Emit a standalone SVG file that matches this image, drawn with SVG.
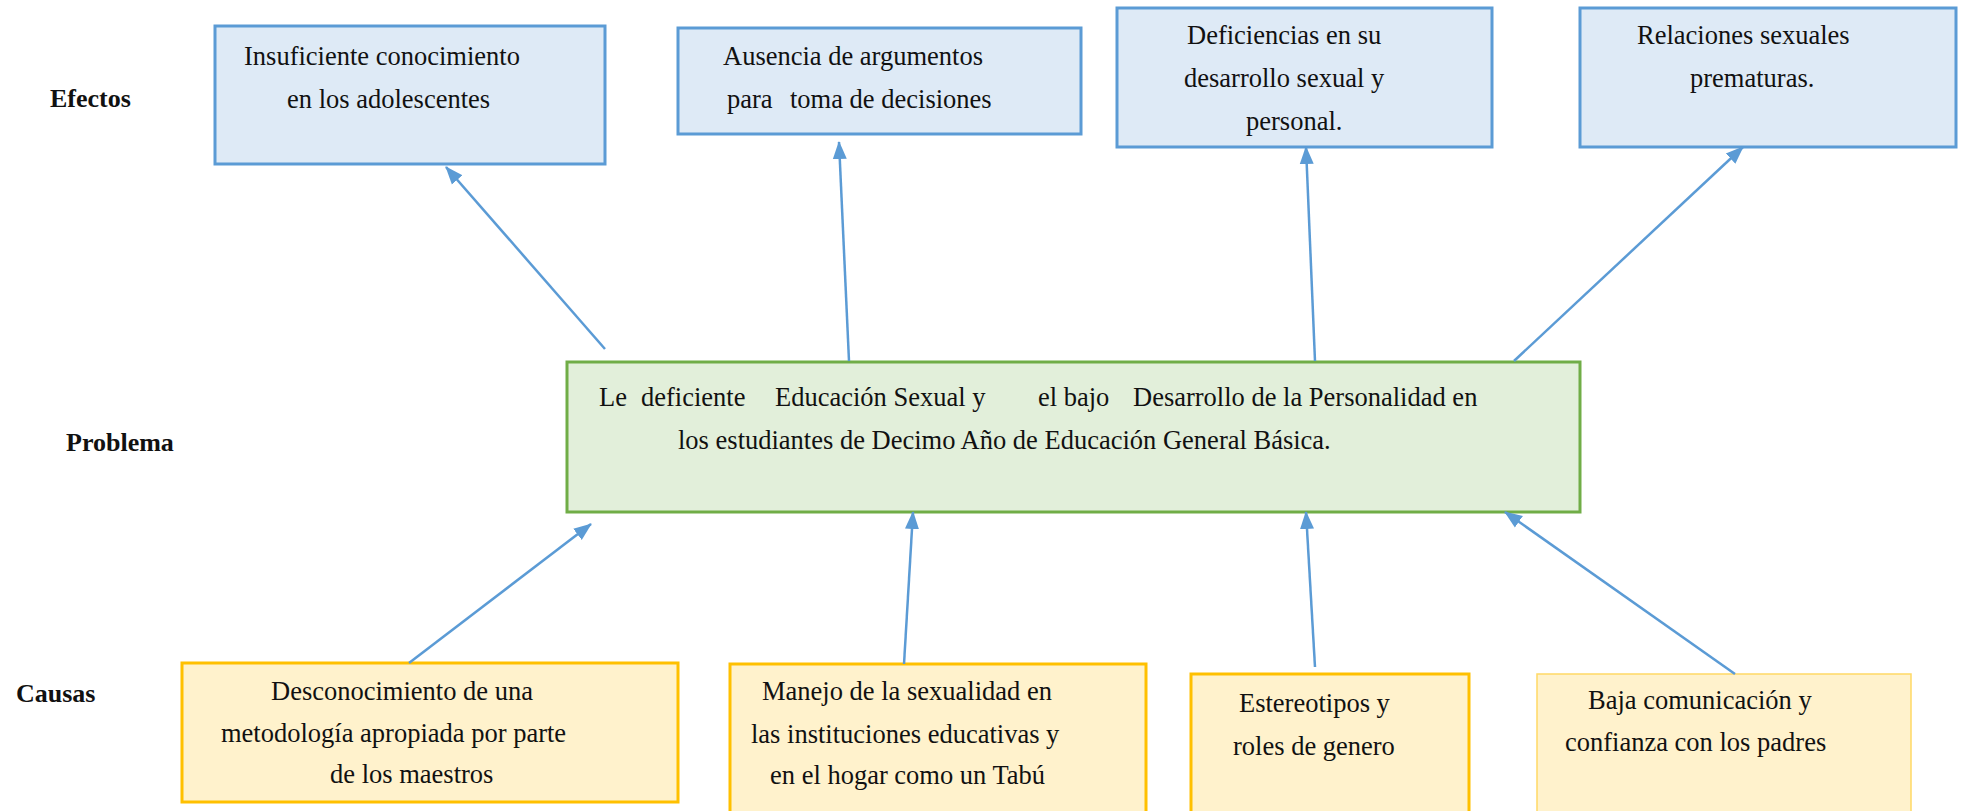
<svg xmlns="http://www.w3.org/2000/svg" width="1964" height="811" viewBox="0 0 1964 811">
<style>
text{font-family:"Liberation Serif","Times New Roman",serif;font-size:26.5px;fill:#111}
.lbl{font-weight:bold;font-size:26px}
.eff{fill:#DEEAF6;stroke:#5B9BD5;stroke-width:3}
.prob{fill:#E2EFDA;stroke:#70AD47;stroke-width:3}
.cau{fill:#FFF2CC;stroke:#FFC000;stroke-width:3}
.cau2{fill:#FFF2CC;stroke:#FFD966;stroke-width:1.5}
.arr{stroke:#5B9BD5;stroke-width:2.5;fill:none;marker-end:url(#ah)}
</style>
<defs>
<marker id="ah" markerUnits="userSpaceOnUse" markerWidth="18" markerHeight="16" viewBox="0 0 18 16" refX="17" refY="8" orient="auto">
<path d="M0,1 L18,8 L0,15 Z" fill="#5B9BD5"/>
</marker>
</defs>
<rect width="1964" height="811" fill="#fff"/>
<g id="labels">
<text class="lbl" x="50" y="107">Efectos</text>
<text class="lbl" x="66" y="451">Problema</text>
<text class="lbl" x="16" y="702">Causas</text>
</g>
<g id="effect1">
<rect class="eff" x="215" y="26" width="390" height="138"/>
<text x="244" y="65">Insuficiente conocimiento</text>
<text x="287" y="108">en los adolescentes</text>
</g>
<g id="effect2">
<rect class="eff" x="678" y="28" width="403" height="106"/>
<text x="723" y="65">Ausencia de argumentos</text>
<text x="727" y="108">para<tspan x="790">toma de decisiones</tspan></text>
</g>
<g id="effect3">
<rect class="eff" x="1117" y="8" width="375" height="139"/>
<text x="1187" y="44">Deficiencias en su</text>
<text x="1184" y="87">desarrollo sexual y</text>
<text x="1246" y="130">personal.</text>
</g>
<g id="effect4">
<rect class="eff" x="1580" y="8" width="376" height="139"/>
<text x="1637" y="44">Relaciones sexuales</text>
<text x="1690" y="87">prematuras.</text>
</g>
<g id="problem">
<rect class="prob" x="567" y="362" width="1013" height="150"/>
<text y="406"><tspan x="599">Le</tspan><tspan x="641">deficiente</tspan><tspan x="775">Educación Sexual y</tspan><tspan x="1038">el bajo</tspan><tspan x="1133">Desarrollo de la Personalidad en</tspan></text>
<text x="678" y="449">los estudiantes de Decimo Año de Educación General Básica.</text>
</g>
<g id="cause1">
<rect class="cau" x="182" y="663" width="496" height="139"/>
<text x="271" y="700">Desconocimiento de una</text>
<text x="221" y="742">metodología apropiada por parte</text>
<text x="330" y="783">de los maestros</text>
</g>
<g id="cause2">
<rect class="cau" x="730" y="664" width="416" height="170"/>
<text x="762" y="700">Manejo de la sexualidad en</text>
<text x="751" y="743">las instituciones educativas y</text>
<text x="770" y="784">en el hogar como un Tabú</text>
</g>
<g id="cause3">
<rect class="cau" x="1191" y="674" width="278" height="160"/>
<text x="1239" y="712">Estereotipos y</text>
<text x="1233" y="755">roles de genero</text>
</g>
<g id="cause4">
<rect class="cau2" x="1537" y="674" width="374" height="160"/>
<text x="1588" y="709">Baja comunicación y</text>
<text x="1565" y="751">confianza con los padres</text>
</g>
<g id="connectors">
<line class="arr" x1="605" y1="349" x2="446" y2="167"/>
<line class="arr" x1="849" y1="361" x2="839" y2="142"/>
<line class="arr" x1="1315" y1="361" x2="1306" y2="147"/>
<line class="arr" x1="1514" y1="361" x2="1743" y2="147"/>
<line class="arr" x1="409" y1="663" x2="591" y2="524"/>
<line class="arr" x1="904" y1="664" x2="913" y2="512"/>
<line class="arr" x1="1315" y1="667" x2="1306" y2="512"/>
<line class="arr" x1="1735" y1="674" x2="1505" y2="512"/>
</g>
</svg>
